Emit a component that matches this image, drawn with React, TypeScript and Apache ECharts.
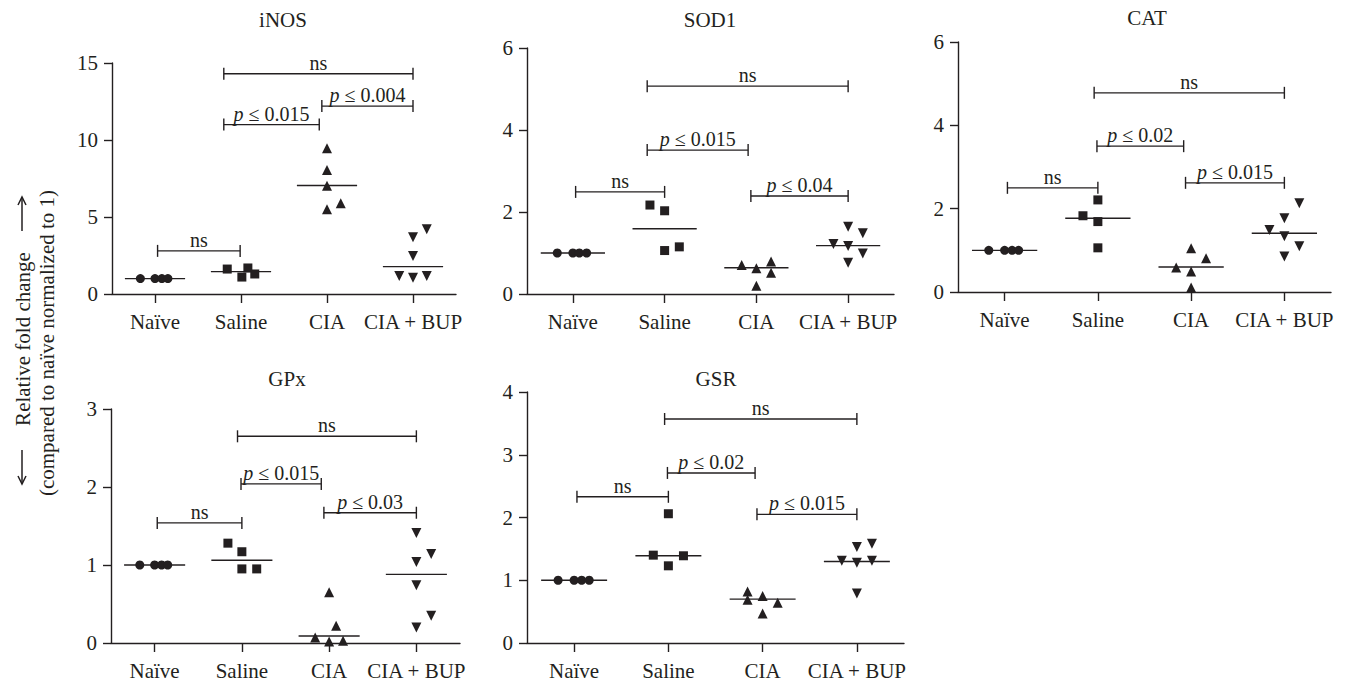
import React, { useEffect, useRef } from "react";
import * as echarts from "echarts";

// ---------- categories ----------
const groups = ["Naïve", "Saline", "CIA", "CIA + BUP"];
const symbols = ["circle", "rect", "triangle", "triangle"];
const symbolRotations = [0, 0, 0, 180];
const symbolSizes = [9, 9, 10, 10];

// ---------- iNOS ----------
const inosNaive = [1.0, 1.0, 1.0, 1.0];
const inosSaline = [1.62, 1.1, 1.69, 1.3];
const inosCia = [9.46, 8.05, 7.03, 5.89, 5.5];
const inosCiaBup = [4.2, 3.68, 2.47, 1.17, 1.06, 1.17];
const inosMedians = [1.0, 1.45, 7.05, 1.78];
const inosJitter = [
  [-0.17, 0, 0.08, 0.15],
  [-0.16, 0.01, 0.08, 0.16],
  [0, 0, 0, 0.16, 0],
  [0.16, 0, 0, -0.16, 0, 0.16],
];
const inosBrackets = [
  { from: 0.03, to: 0.99, y: 2.8, label: "ns" },
  { from: 0.8, to: 3.0, y: 14.3, label: "ns" },
  { from: 0.8, to: 1.91, y: 11.0, label: "p|0.015" },
  { from: 1.94, to: 3.0, y: 12.2, label: "p|0.004" },
];

// ---------- SOD1 ----------
const sodNaive = [1.0, 1.0, 1.0, 1.0];
const sodSaline = [2.17, 2.03, 1.06, 1.15];
const sodCia = [0.71, 0.63, 0.79, 0.52, 0.2];
const sodCiaBup = [1.64, 1.48, 1.22, 1.17, 0.99, 0.76];
const sodMedians = [1.0, 1.59, 0.64, 1.18];
const sodJitter = [
  [-0.17, 0, 0.07, 0.15],
  [-0.16, 0, 0, 0.16],
  [-0.16, 0, 0.16, 0.16, 0],
  [0, 0.16, -0.16, 0, 0.16, 0],
];
const sodBrackets = [
  { from: 0.03, to: 1.0, y: 2.49, label: "ns" },
  { from: 0.81, to: 3.0, y: 5.07, label: "ns" },
  { from: 0.81, to: 1.91, y: 3.51, label: "p|0.015" },
  { from: 1.94, to: 3.0, y: 2.39, label: "p|0.04" },
];

// ---------- CAT ----------
const catNaive = [1.0, 1.0, 1.0, 1.0];
const catSaline = [2.21, 1.83, 1.69, 1.06];
const catCia = [1.05, 0.81, 0.59, 0.49, 0.11];
const catCiaBup = [2.13, 1.77, 1.49, 1.34, 1.1, 0.85];
const catMedians = [1.0, 1.77, 0.6, 1.41];
const catJitter = [
  [-0.17, 0, 0.08, 0.15],
  [0, -0.16, 0, 0],
  [0, 0.16, -0.16, 0, 0],
  [0.16, 0, -0.16, 0, 0.16, 0],
];
const catBrackets = [
  { from: 0.03, to: 1.0, y: 2.5, label: "ns" },
  { from: 0.96, to: 3.0, y: 4.78, label: "ns" },
  { from: 0.99, to: 1.92, y: 3.5, label: "p|0.02" },
  { from: 1.94, to: 3.0, y: 2.62, label: "p|0.015" },
];

// ---------- GPx ----------
const gpxNaive = [1.0, 1.0, 1.0, 1.0];
const gpxSaline = [1.28, 1.17, 0.95, 0.95];
const gpxCia = [0.65, 0.22, 0.07, 0.02, 0.03];
const gpxCiaBup = [1.41, 1.14, 1.04, 0.74, 0.35, 0.2];
const gpxMedians = [1.0, 1.06, 0.09, 0.88];
const gpxJitter = [
  [-0.17, 0, 0.08, 0.15],
  [-0.16, 0, 0, 0.17],
  [0, 0.08, -0.16, 0, 0.16],
  [0, 0.17, 0, 0, 0.17, 0],
];
const gpxBrackets = [
  { from: 0.03, to: 1.0, y: 1.54, label: "ns" },
  { from: 0.95, to: 3.0, y: 2.65, label: "ns" },
  { from: 0.99, to: 1.91, y: 2.04, label: "p|0.015" },
  { from: 1.94, to: 3.0, y: 1.67, label: "p|0.03" },
];

// ---------- GSR ----------
const gsrNaive = [1.0, 1.0, 1.0, 1.0];
const gsrSaline = [2.06, 1.4, 1.39, 1.23];
const gsrCia = [0.82, 0.69, 0.75, 0.64, 0.47];
const gsrCiaBup = [1.53, 1.58, 1.31, 1.28, 1.31, 0.79];
const gsrMedians = [1.0, 1.39, 0.7, 1.3];
const gsrJitter = [
  [-0.17, 0, 0.08, 0.16],
  [0, -0.16, 0.16, 0],
  [-0.16, -0.16, 0, 0.16, 0],
  [0, 0.16, -0.16, 0, 0.16, 0],
];
const gsrBrackets = [
  { from: 0.03, to: 1.0, y: 2.33, label: "ns" },
  { from: 0.96, to: 3.0, y: 3.57, label: "ns" },
  { from: 0.99, to: 1.92, y: 2.71, label: "p|0.02" },
  { from: 1.94, to: 3.0, y: 2.05, label: "p|0.015" },
];

// ---------- axis ----------
const titles = ["iNOS", "SOD1", "CAT", "GPx", "GSR"];
const yMax = [15, 6, 6, 3, 4];
const yInterval = [5, 2, 2, 1, 1];
const yTitleLine1 = "Relative fold change";
const yTitleLine2 = "(compared to naïve normalized to 1)";

const panelsData = [
  { values: [inosNaive, inosSaline, inosCia, inosCiaBup], jitter: inosJitter, medians: inosMedians, brackets: inosBrackets },
  { values: [sodNaive, sodSaline, sodCia, sodCiaBup], jitter: sodJitter, medians: sodMedians, brackets: sodBrackets },
  { values: [catNaive, catSaline, catCia, catCiaBup], jitter: catJitter, medians: catMedians, brackets: catBrackets },
  { values: [gpxNaive, gpxSaline, gpxCia, gpxCiaBup], jitter: gpxJitter, medians: gpxMedians, brackets: gpxBrackets },
  { values: [gsrNaive, gsrSaline, gsrCia, gsrCiaBup], jitter: gsrJitter, medians: gsrMedians, brackets: gsrBrackets },
];

// layout (pixels)
const layouts = [
  { left: 112, top: 63, width: 344, height: 231, tx: 283, ty: 20 },
  { left: 527, top: 48, width: 367, height: 246, tx: 710, ty: 20 },
  { left: 958, top: 42, width: 373, height: 250, tx: 1147, ty: 18 },
  { left: 111, top: 409, width: 349, height: 234, tx: 287, ty: 379 },
  { left: 527, top: 392, width: 377, height: 251, tx: 716, ty: 379 },
];

const FONT = "Liberation Serif, serif";
const INK = "#231f20";
const FS = 21;
const FS_BR = 20;

function buildOption() {
  const grid: any[] = [];
  const xAxis: any[] = [];
  const yAxis: any[] = [];
  const series: any[] = [];
  const graphic: any[] = [];

  panelsData.forEach((p, i) => {
    const L = layouts[i];
    grid.push({ left: L.left, top: L.top, width: L.width, height: L.height });
    xAxis.push({
      type: "category",
      gridIndex: i,
      data: groups,
      boundaryGap: true,
      axisLine: { show: true, onZero: false, lineStyle: { color: INK, width: 1.4 } },
      axisTick: { show: true, alignWithLabel: true, interval: 0, length: 9, lineStyle: { color: INK, width: 1.4 } },
      axisLabel: { color: INK, fontFamily: FONT, fontSize: FS, margin: 17, interval: 0 },
      splitLine: { show: false },
    });
    xAxis.push({ type: "value", gridIndex: i, min: -0.5, max: 3.5, show: false });
    yAxis.push({
      type: "value",
      gridIndex: i,
      min: 0,
      max: yMax[i],
      interval: yInterval[i],
      axisLine: { show: true, onZero: false, lineStyle: { color: INK, width: 1.4 } },
      axisTick: { show: true, length: 8, lineStyle: { color: INK, width: 1.4 } },
      axisLabel: { color: INK, fontFamily: FONT, fontSize: FS, margin: 14 },
      splitLine: { show: false },
    });

    const xIdx = i * 2 + 1;

    // median lines
    series.push({
      type: "custom",
      xAxisIndex: xIdx,
      yAxisIndex: i,
      clip: false,
      z: 2,
      data: p.medians.map((m, g) => [g, m]),
      renderItem: (_params: any, api: any) => {
        const g = api.value(0);
        const m = api.value(1);
        const a = api.coord([g - 0.35, m]);
        const b = api.coord([g + 0.35, m]);
        return {
          type: "line",
          shape: { x1: a[0], y1: a[1], x2: b[0], y2: b[1] },
          style: { stroke: INK, lineWidth: 1.4 },
        };
      },
    });

    // brackets
    const br = p.brackets;
    series.push({
      type: "custom",
      xAxisIndex: xIdx,
      yAxisIndex: i,
      clip: false,
      z: 2,
      encode: { x: [0, 1], y: 2 },
      data: br.map((b) => [b.from, b.to, b.y]),
      renderItem: (params: any, api: any) => {
        const a = api.coord([api.value(0), api.value(2)]);
        const b = api.coord([api.value(1), api.value(2)]);
        const raw = br[params.dataIndex].label;
        const parts = raw.split("|");
        const text = parts.length > 1 ? "{i|" + parts[0] + "} ≤ " + parts[1] : raw;
        const st = { stroke: INK, lineWidth: 1.4 };
        return {
          type: "group",
          children: [
            { type: "line", shape: { x1: a[0], y1: a[1], x2: b[0], y2: b[1] }, style: st },
            { type: "line", shape: { x1: a[0], y1: a[1] - 6, x2: a[0], y2: a[1] + 6 }, style: st },
            { type: "line", shape: { x1: b[0], y1: b[1] - 6, x2: b[0], y2: b[1] + 6 }, style: st },
            {
              type: "text",
              x: (a[0] + b[0]) / 2,
              y: a[1] - 1,
              style: {
                text,
                fill: INK,
                fontFamily: FONT,
                fontSize: FS_BR,
                align: "center",
                verticalAlign: "bottom",
                rich: { i: { fontStyle: "italic", fontFamily: FONT, fontSize: FS_BR, fill: INK } },
              },
            },
          ],
        };
      },
    });

    // points
    p.values.forEach((vals, g) => {
      series.push({
        type: "scatter",
        xAxisIndex: xIdx,
        yAxisIndex: i,
        z: 3,
        symbol: symbols[g],
        symbolRotate: symbolRotations[g],
        symbolSize: symbolSizes[g],
        itemStyle: { color: INK, opacity: 1 },
        data: vals.map((v, k) => [g + p.jitter[g][k], v]),
      });
    });

    graphic.push({
      type: "text",
      x: L.tx,
      y: L.ty,
      style: { text: titles[i], fill: INK, fontFamily: FONT, fontSize: FS, align: "center", verticalAlign: "middle" },
    });
  });

  // y-axis title
  const lineSt = { stroke: INK, lineWidth: 1.5 };
  graphic.push(
    { type: "line", shape: { x1: 22, y1: 231, x2: 22, y2: 197 }, style: lineSt },
    { type: "polyline", shape: { points: [[18, 205], [22, 197], [26, 205]] }, style: { ...lineSt, fill: null } },
    { type: "line", shape: { x1: 22, y1: 450, x2: 22, y2: 484 }, style: lineSt },
    { type: "polyline", shape: { points: [[18, 476], [22, 484], [26, 476]] }, style: { ...lineSt, fill: null } },
    {
      type: "text",
      x: 23,
      y: 339,
      rotation: Math.PI / 2,
      style: { text: yTitleLine1, fill: INK, fontFamily: FONT, fontSize: FS, align: "center", verticalAlign: "middle" },
    },
    {
      type: "text",
      x: 47,
      y: 343,
      rotation: Math.PI / 2,
      style: { text: yTitleLine2, fill: INK, fontFamily: FONT, fontSize: FS, align: "center", verticalAlign: "middle" },
    }
  );

  return { animation: false, backgroundColor: "#ffffff", grid, xAxis, yAxis, series, graphic };
}

export default function App() {
  const ref = useRef<HTMLDivElement>(null);
  useEffect(() => {
    if (!ref.current) return;
    const chart = echarts.init(ref.current, undefined, { renderer: "svg" });
    chart.setOption(buildOption() as any);
    return () => chart.dispose();
  }, []);
  return (
    <div
      ref={ref}
      style={{ position: "fixed", left: 0, top: 0, width: 1348, height: 682, background: "#fff" }}
    />
  );
}
